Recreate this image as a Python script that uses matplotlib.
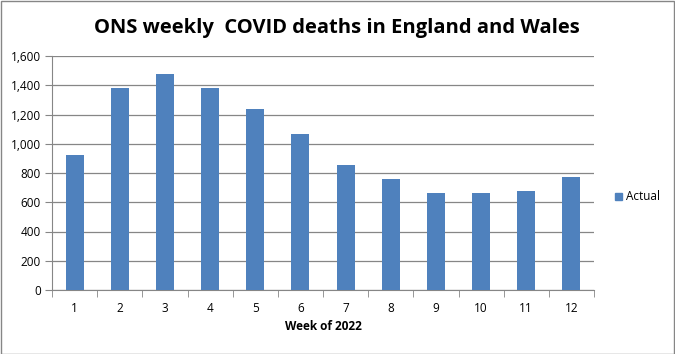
import matplotlib
matplotlib.use("Agg")
import matplotlib.pyplot as plt
from matplotlib.patches import Rectangle
import numpy as np

weeks = ["1", "2", "3", "4", "5", "6", "7", "8", "9", "10", "11", "12"]
actual = [920, 1380, 1480, 1380, 1235, 1065, 858, 760, 665, 665, 680, 775]
yticks = [0, 200, 400, 600, 800, 1000, 1200, 1400, 1600]

plt.rcParams['font.family'] = ['Open Sans', 'DejaVu Sans']

W, H = 675, 354
fig = plt.figure(figsize=(W/100, H/100), dpi=100)
fig.patch.set_facecolor('white')
fig.add_artist(Rectangle((0.5/W, 0.5/H), 1-1.5/W, 1-1.5/H, transform=fig.transFigure,
                         fill=False, edgecolor='#868686', linewidth=1))

left, right, top, bottom = 52, 594, 56, 290
ax = fig.add_axes([left/W, 1-bottom/H, (right-left)/W, (bottom-top)/H])

x = np.arange(len(weeks))
ax.bar(x, actual, width=0.4, color='#4F81BD', zorder=3, label='Actual')
ax.set_xlim(-0.5, len(weeks)-0.5)
ax.set_ylim(0, 1600)
ax.set_yticks(yticks)
ax.set_yticklabels([f"{v:,}" for v in yticks], fontsize=8.5)
ax.set_xticks(x)
ax.set_xticklabels(weeks, fontsize=8.5)
ax.tick_params(axis='x', length=0, pad=9)
ax.set_xticks(np.arange(-0.5, len(weeks)), minor=True)
ax.tick_params(axis='x', which='minor', length=5, color='#868686', direction='out')
ax.tick_params(axis='y', length=5, color='#868686', direction='out', pad=3)
ax.yaxis.grid(True, color='#868686', linewidth=0.9, zorder=0)
for s in ['top', 'right']:
    ax.spines[s].set_visible(False)
for s in ['left', 'bottom']:
    ax.spines[s].set_color('#868686')
ax.set_xlabel('Week of 2022', fontsize=8.5, fontweight='bold', labelpad=3)

fig.text(337/W, 1-28/H, 'ONS weekly  COVID deaths in England and Wales', ha='center', va='center',
         fontsize=14.5, fontweight='bold')

fig.legend(handles=[Rectangle((0, 0), 1, 1, color='#4F81BD')], labels=['Actual'],
           loc='center left', bbox_to_anchor=(604/W, 1-197/H), frameon=False, fontsize=8.5,
           handlelength=0.6, handleheight=0.6, handletextpad=0.4)

fig.savefig('out.png', dpi=100)
